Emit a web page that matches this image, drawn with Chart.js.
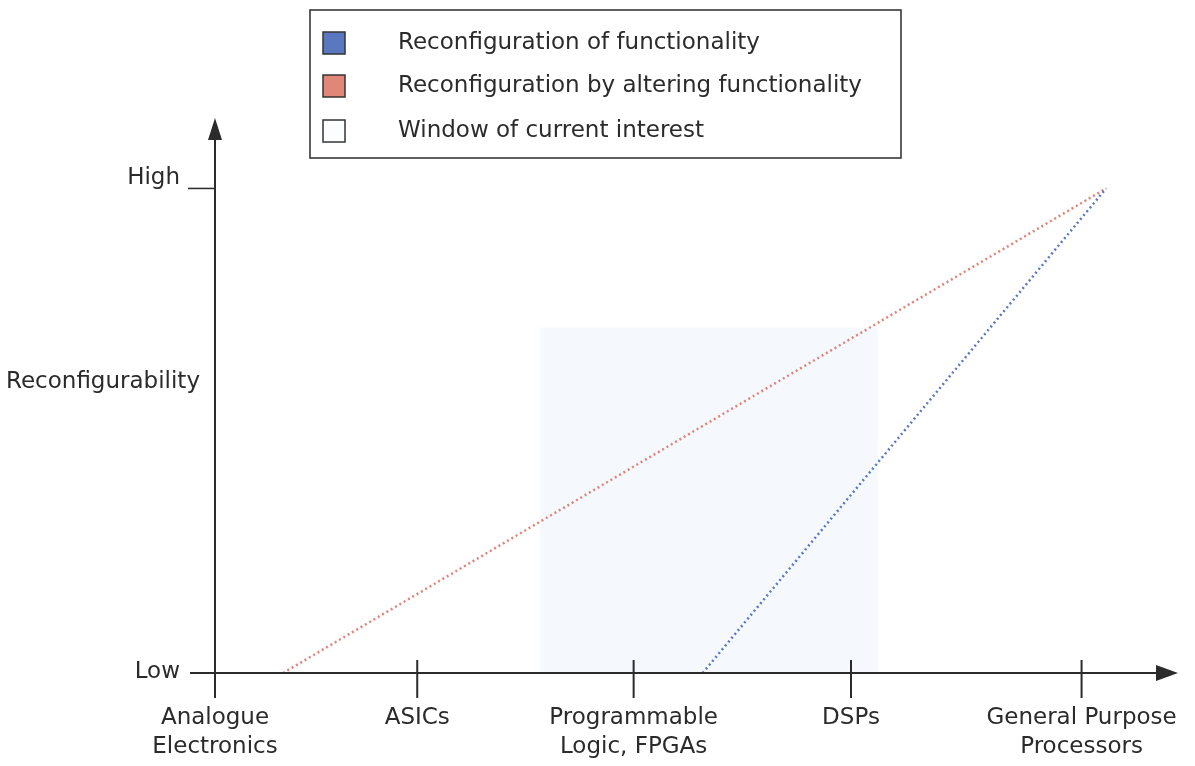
<!DOCTYPE html>
<html>
<head>
<meta charset="utf-8">
<script src="https://cdn.jsdelivr.net/npm/chart.js@4"></script>
<style>
  html, body { margin: 0; padding: 0; background: #fff; }
  #wrap { width: 1195px; height: 766px; }
</style>
</head>
<body>
<div id="wrap"><canvas id="reconfChart"></canvas></div>
<script>
// platform categories along the x axis (position on a 0..100 scale)
const categories = [['Analogue', 'Electronics'], ['ASICs'], ['Programmable', 'Logic, FPGAs'], ['DSPs'], ['General Purpose', 'Processors']];
const categoryPos = [0, 21.4, 44.3, 67.3, 91.7];

// reconfigurability levels
const levelLabels = ['Low', 'High'];
const levelValues = [0, 1];
const axisTitle = 'Reconfigurability';
const axisTitleValue = 0.6;

// the two trends (x, y)
const alteringX = [7.2, 94.3];
const alteringY = [0, 1];
const functionalityX = [51.6, 94.3];
const functionalityY = [0, 1];

// window of current interest
const windowX = [34.4, 70.2];
const windowTop = 0.713;

const seriesLabels = ['Reconfiguration of functionality', 'Reconfiguration by altering functionality', 'Window of current interest'];

const ink = '#2b2b2b';
const font = '"DejaVu Sans", Verdana, sans-serif';

function toPoints(xs, ys) {
    return xs.map((x, i) => ({ x: x, y: ys[i] }));
}

// custom axes: arrows, crossing ticks and labels
const axesPlugin = {
    id: 'axesPlugin',
    afterDraw(chart) {
        const c = chart.ctx;
        const xs = chart.scales.x;
        const ys = chart.scales.y;
        const x0 = xs.getPixelForValue(0);
        const y0 = ys.getPixelForValue(0);
        const yHigh = ys.getPixelForValue(1);
        const top = chart.chartArea.top;
        const right = chart.chartArea.right;

        c.save();
        c.strokeStyle = ink;
        c.fillStyle = ink;
        c.lineWidth = 2;

        // y axis
        c.beginPath();
        c.moveTo(x0, y0 + 25);
        c.lineTo(x0, top - 6);
        c.stroke();
        c.beginPath();
        c.moveTo(x0, top - 22);
        c.lineTo(x0 - 7, top);
        c.lineTo(x0 + 7, top);
        c.closePath();
        c.fill();

        // x axis
        c.beginPath();
        c.moveTo(x0 - 25, y0);
        c.lineTo(right + 4, y0);
        c.stroke();
        c.beginPath();
        c.moveTo(right + 18, y0);
        c.lineTo(right - 4, y0 - 8);
        c.lineTo(right - 4, y0 + 8);
        c.closePath();
        c.fill();

        // x ticks
        categoryPos.forEach(v => {
            const px = xs.getPixelForValue(v);
            c.beginPath();
            c.moveTo(px, y0 - 13);
            c.lineTo(px, y0 + 25);
            c.stroke();
        });

        // High tick
        c.lineWidth = 1.5;
        c.beginPath();
        c.moveTo(x0 - 27, yHigh);
        c.lineTo(x0, yHigh);
        c.stroke();

        // labels
        c.font = '23px ' + font;
        c.fillStyle = ink;
        c.textBaseline = 'middle';
        c.textAlign = 'center';
        categories.forEach((lines, i) => {
            const px = xs.getPixelForValue(categoryPos[i]);
            lines.forEach((t, j) => c.fillText(t, px, y0 + 45 + j * 29));
        });

        c.textAlign = 'right';
        levelLabels.forEach((t, i) => {
            const py = ys.getPixelForValue(levelValues[i]);
            c.fillText(t, x0 - 35, py - (i === 1 ? 10 : 1));
        });
        c.fillText(axisTitle, x0 - 15, ys.getPixelForValue(axisTitleValue));
        c.restore();
    }
};

// boxed legend at the top
const legendBox = {
    id: 'legendBox',
    afterDraw(chart) {
        const c = chart.ctx;
        const swatches = ['#5a78c0', '#e0877a', '#fbfdff'];
        c.save();
        c.strokeStyle = ink;
        c.lineWidth = 1.5;
        c.strokeRect(310, 10, 591, 148);
        c.font = '23px ' + font;
        c.textBaseline = 'middle';
        c.textAlign = 'left';
        seriesLabels.forEach((t, i) => {
            const cy = [43, 86, 131][i];
            c.fillStyle = swatches[i];
            c.fillRect(323, cy - 11, 22, 22);
            c.strokeStyle = '#333';
            c.lineWidth = 1.5;
            c.strokeRect(323, cy - 11, 22, 22);
            c.fillStyle = ink;
            c.fillText(t, 398, cy);
        });
        c.restore();
    }
};

new Chart(document.getElementById('reconfChart'), {
    type: 'scatter',
    data: {
        datasets: [
            {
                label: seriesLabels[2],
                data: toPoints([windowX[0], windowX[0], windowX[1], windowX[1]], [0, windowTop, windowTop, 0]),
                showLine: true,
                borderWidth: 0,
                pointRadius: 0,
                backgroundColor: '#f5f9fd',
                fill: 'origin',
                order: 3
            },
            {
                label: seriesLabels[1],
                data: toPoints(alteringX, alteringY),
                showLine: true,
                borderColor: '#de8479',
                borderWidth: 2.5,
                borderDash: [2, 3],
                pointRadius: 0,
                fill: false,
                order: 2
            },
            {
                label: seriesLabels[0],
                data: toPoints(functionalityX, functionalityY),
                showLine: true,
                borderColor: '#5a78c2',
                borderWidth: 2.5,
                borderDash: [2, 3],
                pointRadius: 0,
                fill: false,
                order: 1
            }
        ]
    },
    options: {
        responsive: true,
        maintainAspectRatio: false,
        animation: false,
        layout: {
            padding: { left: 215, right: 35, top: 140, bottom: 93 }
        },
        scales: {
            x: { type: 'linear', min: 0, max: 100, display: false },
            y: { type: 'linear', min: 0, max: 1.1, display: false }
        },
        plugins: {
            legend: { display: false },
            tooltip: { enabled: false }
        }
    },
    plugins: [axesPlugin, legendBox]
});
</script>
</body>
</html>
